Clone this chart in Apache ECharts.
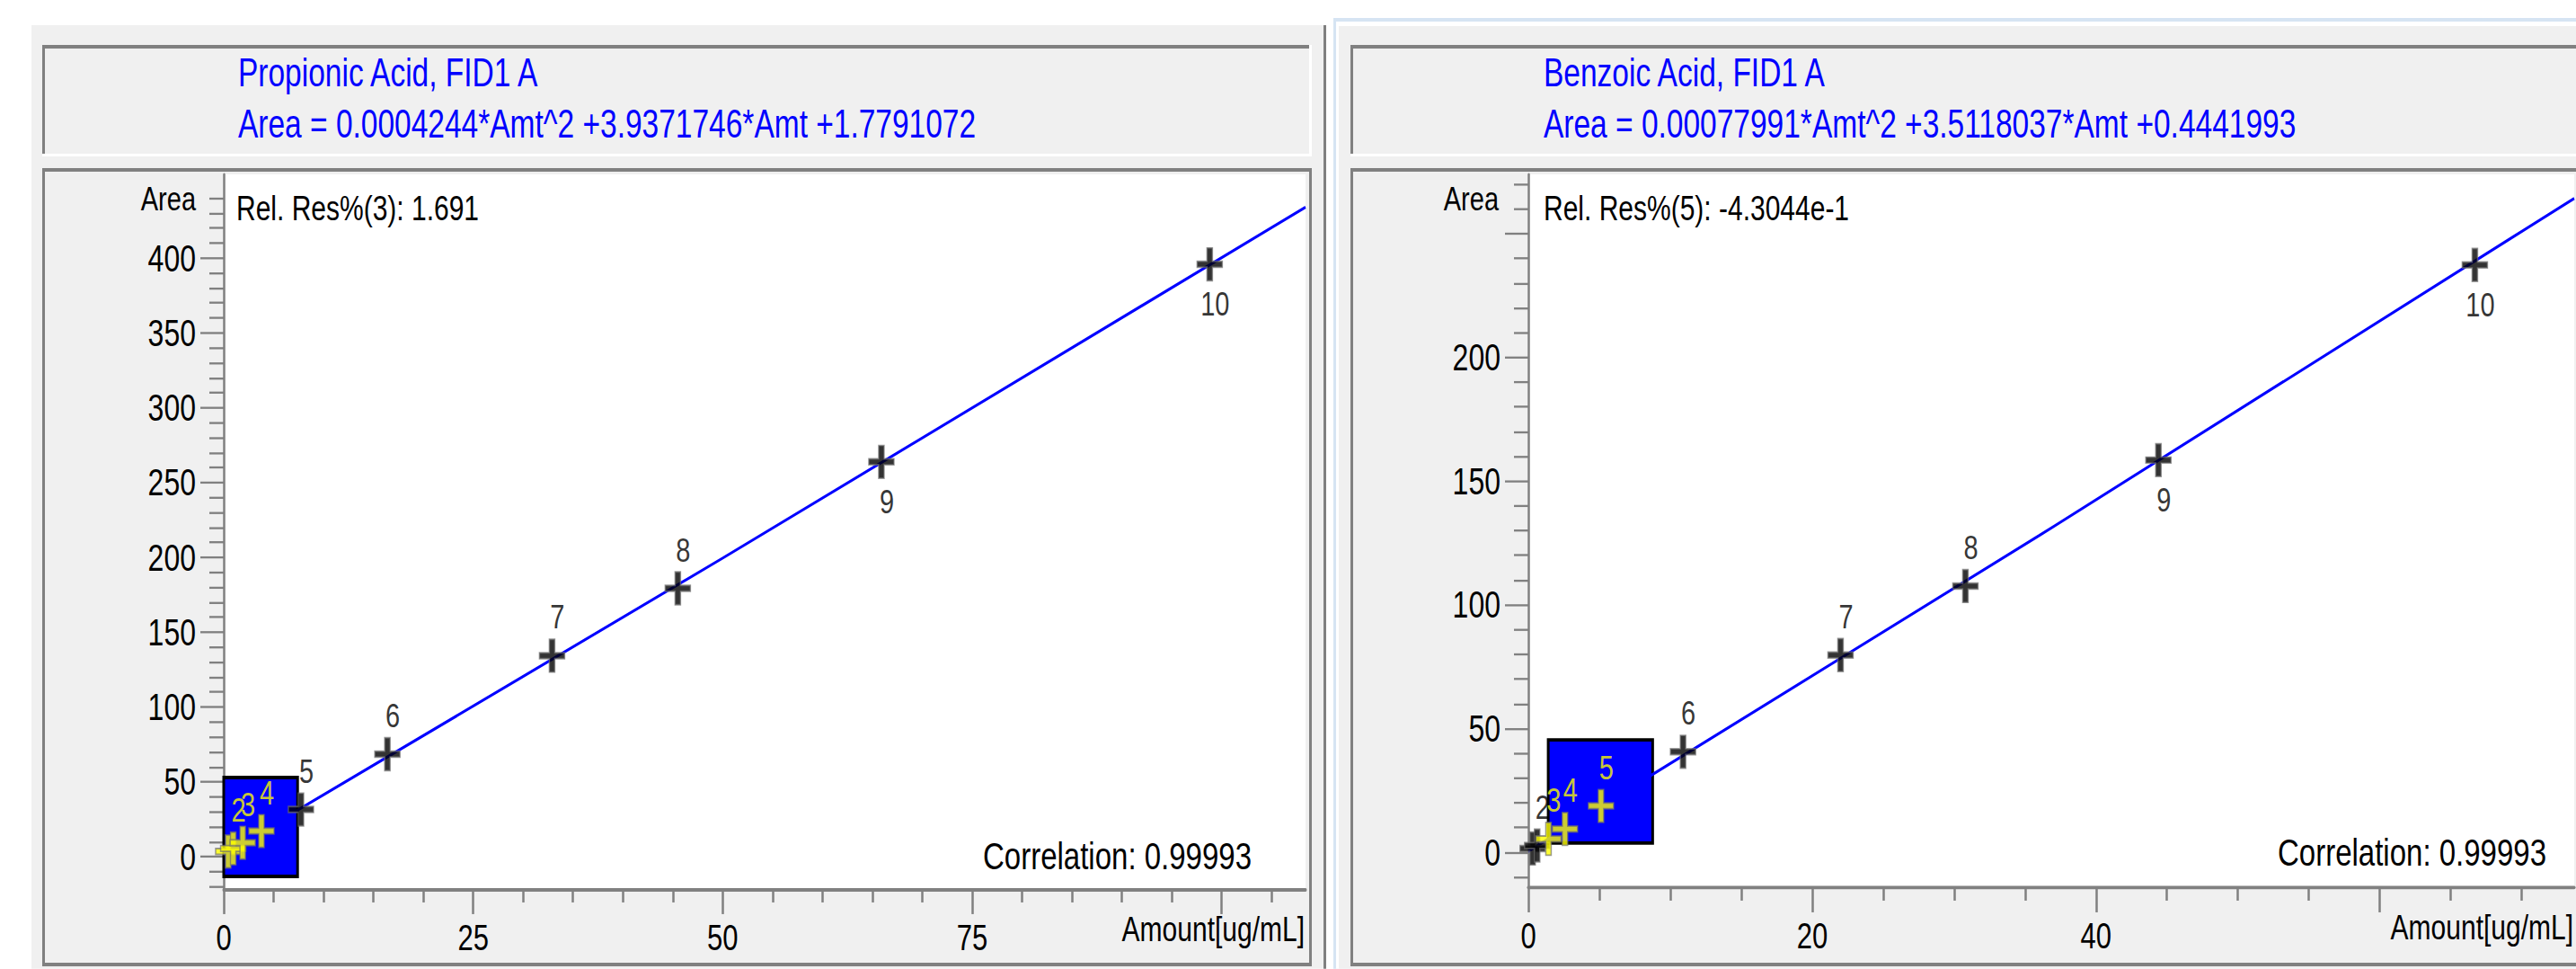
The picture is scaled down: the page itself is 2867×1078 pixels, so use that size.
<!DOCTYPE html>
<html>
<head>
<meta charset="utf-8">
<script src="https://cdn.jsdelivr.net/npm/echarts@6/dist/echarts.min.js"></script>
<style>
html,body{margin:0;padding:0;background:#fff;overflow:hidden}
#wrap{width:2867px;height:1078px;overflow:hidden;position:relative;background:#fff}
#chart{position:absolute;left:0;top:0;width:2867px;height:829.2308px;transform:scaleY(1.3);transform-origin:0 0}
</style>
</head>
<body>
<div id="wrap"><div id="chart"></div></div>
<script>
// ---------------- data ----------------
const levelLabels = ['1', '2', '3', '4', '5', '6', '7', '8', '9', '10'];

const propTitle = 'Propionic Acid, FID1 A';
const propFormula = 'Area = 0.0004244*Amt^2 +3.9371746*Amt +1.7791072';
const propRelRes = 'Rel. Res%(3): 1.691';
const propCorr = 'Correlation: 0.99993';
const propAmt  = [0.45, 0.95, 1.9, 3.78, 7.74, 16.4, 32.9, 45.5, 65.9, 98.8];
const propArea = [3.5, 5.5, 9.3, 17.1, 31.5, 68.5, 134.3, 179.3, 263.8, 395.8];
const propLineAmt  = [0, 50, 108.4];
const propLineArea = [1.8, 199.5, 434];
const propRect = [[0, -13.2], [7.4, 52.9]];
const propXRange = [0, 108.4];
const propYRange = [-21.6, 455.9];
const propXTicks = [0, 25, 50, 75, 100];
const propXLabels = [0, 25, 50, 75];
const propYTicks = [0, 50, 100, 150, 200, 250, 300, 350, 400];
const propYLabels = [0, 50, 100, 150, 200, 250, 300, 350, 400];

const benzTitle = 'Benzoic Acid, FID1 A';
const benzFormula = 'Area = 0.00077991*Amt^2 +3.5118037*Amt +0.4441993';
const benzRelRes = 'Rel. Res%(5): -4.3044e-1';
const benzCorr = 'Correlation: 0.99993';
const benzAmt  = [0.3, 0.62, 1.42, 2.58, 5.12, 10.9, 22.0, 30.8, 44.4, 66.7];
const benzArea = [1.5, 2.7, 5.4, 9.4, 18.7, 40.6, 79.7, 107.6, 158.5, 237.4];
const benzLineAmt  = [0, 36, 73.7];
const benzLineArea = [0.4, 128, 264.3];
const benzRect = [[1.4, 3.7], [8.76, 45.4]];
const benzXRange = [0, 73.7];
const benzYRange = [-14.15, 274];
const benzXTicks = [0, 20, 40, 60];
const benzXLabels = [0, 20, 40];
const benzYTicks = [0, 50, 100, 150, 200, 250];
const benzYLabels = [0, 50, 100, 150, 200];

const xName = 'Amount[ug/mL]';
const yName = 'Area';

// ---------------- layout helpers ----------------
const S = 1.3;                 // vertical stretch of the original screenshot
const sy = v => v / S;         // full-picture y -> chart y
const FONT = '"Liberation Sans", Arial, sans-serif';
const GRAY = '#808080';
const PANEL = '#f0f0f0';
const BLUE = '#0000ff';
const YELLOW = '#ffff00';
const CROSS = 'path://M11 0H17V11.5H28V16.5H17V28H11V16.5H0V11.5H11Z';

function rectEl(x0, y0, x1, y1, fill, z) {
  return { type: 'rect', silent: true, z: z,
    shape: { x: x0, y: sy(y0), width: x1 - x0, height: sy(y1) - sy(y0) },
    style: { fill: fill } };
}
function textEl(txt, x, yc, size, color, align) {
  return { type: 'text', silent: true, z: 20, x: x, y: sy(yc),
    style: { text: txt, fill: color, fontSize: size, fontFamily: FONT,
      align: align || 'left', verticalAlign: 'middle' } };
}

const graphic = [
  // window backgrounds
  rectEl(35, 28, 1473, 1078, PANEL, -20),
  rectEl(1473, 28, 1476, 1078, GRAY, -19),
  rectEl(1484, 20, 2867, 1078, '#d6e4f3', -20),
  rectEl(1487, 24, 2867, 1078, '#ffffff', -19),
  rectEl(1490, 29, 2867, 1078, PANEL, -18),
  // header boxes (sunken)
  rectEl(47, 50, 1460, 174, '#ffffff', -15),
  rectEl(47, 50, 1457, 171, GRAY, -14),
  rectEl(50, 54, 1457, 171, PANEL, -13),
  rectEl(1503, 50, 2930, 174, '#ffffff', -15),
  rectEl(1503, 50, 2927, 171, GRAY, -14),
  rectEl(1506, 54, 2927, 171, PANEL, -13),
  // plot boxes
  rectEl(47, 187, 1460, 1075, GRAY, -15),
  rectEl(50, 191, 1457, 1071, PANEL, -14),
  rectEl(1503, 187, 2930, 1075, GRAY, -15),
  rectEl(1506, 191, 2927, 1071, PANEL, -14),
  // texts
  textEl(propTitle, 265, 81, 33.5, BLUE),
  textEl(propFormula, 265, 138, 33.5, BLUE),
  textEl(benzTitle, 1718, 81, 33.5, BLUE),
  textEl(benzFormula, 1718, 138, 33.5, BLUE),
  textEl(propRelRes, 263, 232, 30, '#000'),
  textEl(benzRelRes, 1718, 232, 30, '#000'),
  textEl(propCorr, 1393, 952, 33, '#000', 'right'),
  textEl(benzCorr, 2834, 948, 33, '#000', 'right')
];

function xAxisCfg(grid, range, interval, minorSplit, ticks, labels) {
  return {
    type: 'value', gridIndex: grid, min: range[0], max: range[1], interval: interval,
    axisLine: { show: true, onZero: false, lineStyle: { color: GRAY, width: 3 } },
    axisTick: { show: true, length: 21.5, customValues: ticks, lineStyle: { color: GRAY, width: 2.5 } },
    minorTick: { show: true, splitNumber: minorSplit, length: 11.5, lineStyle: { color: GRAY, width: 2.5 } },
    axisLabel: { customValues: labels, margin: 26, fontSize: 31, color: '#000', fontFamily: FONT },
    splitLine: { show: false }, minorSplitLine: { show: false },
    name: xName, nameLocation: 'end', nameGap: -1,
    nameTextStyle: { align: 'right', verticalAlign: 'top', padding: [19, 0, 0, 0],
      fontSize: 30, color: '#000', fontFamily: FONT }
  };
}
function yAxisCfg(grid, range, splitNumber, ticks, labels, padRight) {
  return {
    type: 'value', gridIndex: grid, min: range[0], max: range[1], splitNumber: splitNumber,
    axisLine: { show: true, onZero: false, lineStyle: { color: GRAY, width: 2.5 } },
    axisTick: { show: true, length: 26, customValues: ticks, lineStyle: { color: GRAY, width: 1.8 } },
    minorTick: { show: true, splitNumber: 5, length: 16, lineStyle: { color: GRAY, width: 1.8 } },
    axisLabel: { customValues: labels, margin: 31, fontSize: 32, color: '#000', fontFamily: FONT },
    splitLine: { show: false }, minorSplitLine: { show: false },
    name: yName, nameLocation: 'end', nameGap: 0,
    nameTextStyle: { align: 'right', verticalAlign: 'top', padding: [6, padRight, 0, 0],
      fontSize: 29, color: '#000', fontFamily: FONT }
  };
}

function pairs(xs, ys) { return xs.map((x, i) => [x, ys[i]]); }
function inRect(x, y, r) { return x >= r[0][0] && x <= r[1][0] && y >= r[0][1] && y <= r[1][1]; }
function points(xs, ys, rect) {
  return xs.map((x, i) => {
    const c = inRect(x, ys[i], rect) ? YELLOW : '#000000';
    const below = i >= 8;
    return {
      name: levelLabels[i], value: [x, ys[i]],
      itemStyle: { color: c, borderColor: 'rgba(110,110,110,0.85)', borderWidth: 1.5 },
      label: { show: i > 0, color: c, offset: [6, below ? 34 : -33] }
    };
  });
}
function seriesFor(idx, xs, ys, lineX, lineY, rect) {
  return [
    { type: 'scatter', xAxisIndex: idx, yAxisIndex: idx, z: 1, symbolSize: 0, silent: true,
      data: rect.map(p => p.slice()),
      markArea: { silent: true, label: { show: false },
        itemStyle: { color: BLUE, borderColor: '#000000', borderWidth: 3, opacity: 1 },
        data: [[{ coord: rect[0] }, { coord: rect[1] }]] } },
    { type: 'line', xAxisIndex: idx, yAxisIndex: idx, z: 3, symbol: 'none', silent: true,
      lineStyle: { width: 2.5, color: BLUE }, data: pairs(lineX, lineY) },
    { type: 'scatter', xAxisIndex: idx, yAxisIndex: idx, z: 5, symbol: CROSS, symbolSize: [28, 28],
      silent: true,
      label: { show: true, position: 'inside', formatter: '{b}', fontSize: 29, fontFamily: FONT },
      data: points(xs, ys, rect) }
  ];
}

const chart = echarts.init(document.getElementById('chart'), null, { renderer: 'svg' });
chart.setOption({
  animation: false,
  backgroundColor: 'transparent',
  graphic: graphic,
  grid: [
    { left: 249, width: 1204, top: sy(194), height: sy(989) - sy(194), show: true,
      backgroundColor: '#ffffff', borderWidth: 0, containLabel: false },
    { left: 1701, width: 1208, top: sy(194), height: sy(987) - sy(194), show: true,
      backgroundColor: '#ffffff', borderWidth: 0, containLabel: false }
  ],
  xAxis: [
    xAxisCfg(0, propXRange, 25, 5, propXTicks, propXLabels),
    xAxisCfg(1, benzXRange, 20, 4, benzXTicks, benzXLabels)
  ],
  yAxis: [
    yAxisCfg(0, propYRange, 10, propYTicks, propYLabels, 31),
    yAxisCfg(1, benzYRange, 6, benzYTicks, benzYLabels, 33)
  ],
  visualMap: [
    { type: 'piecewise', show: false, seriesIndex: 1, dimension: 0,
      pieces: [{ gte: propXRange[0] - 1, lt: propRect[1][0], color: '#ffffff' },
               { gte: propRect[1][0], lte: propXRange[1] + 1, color: BLUE }] },
    { type: 'piecewise', show: false, seriesIndex: 4, dimension: 0,
      pieces: [{ gte: benzXRange[0] - 1, lt: benzRect[0][0], color: BLUE },
               { gte: benzRect[0][0], lt: benzRect[1][0], color: '#ffffff' },
               { gte: benzRect[1][0], lte: benzXRange[1] + 1, color: BLUE }] }
  ],
  series: [].concat(
    seriesFor(0, propAmt, propArea, propLineAmt, propLineArea, propRect),
    seriesFor(1, benzAmt, benzArea, benzLineAmt, benzLineArea, benzRect)
  )
});
</script>
</body>
</html>
